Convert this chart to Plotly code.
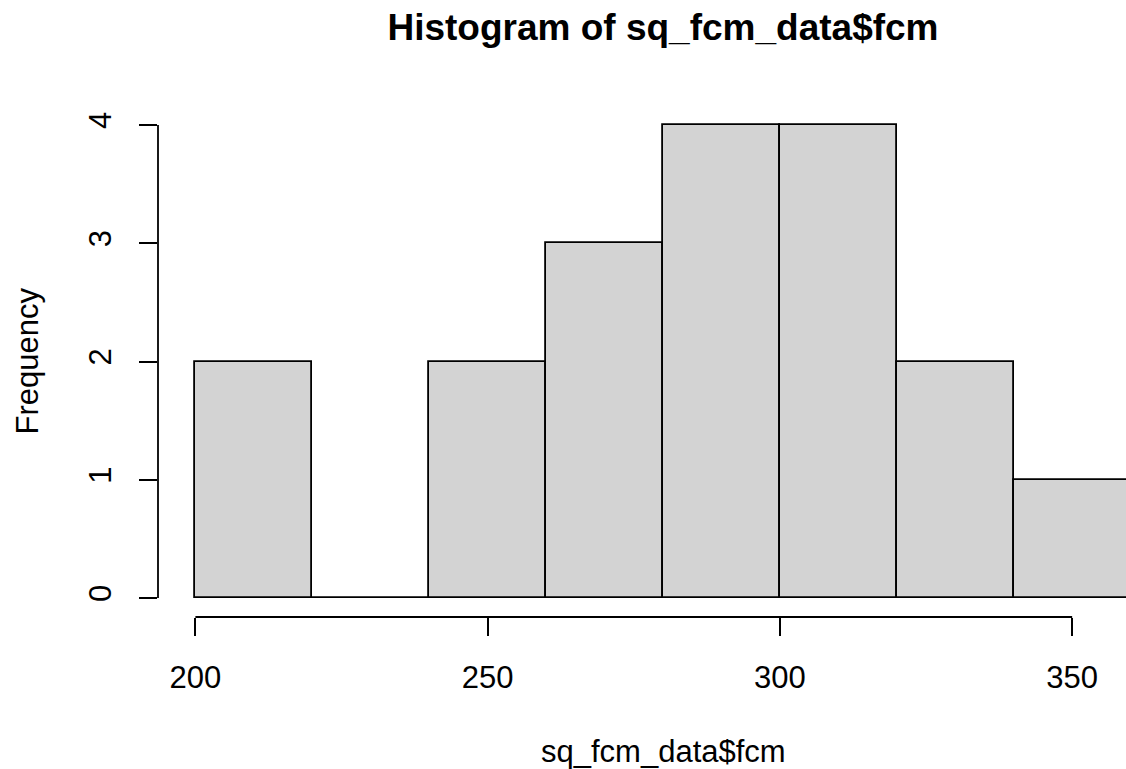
import plotly.graph_objects as go

bin_starts = [200, 220, 240, 260, 280, 300, 320, 340]
bin_width = 20
counts = [2, 0, 2, 3, 4, 4, 2, 1]
x_ticks = [200, 250, 300, 350]
y_ticks = [0, 1, 2, 3, 4]
title_text = "Histogram of sq_fcm_data$fcm"
x_label = "sq_fcm_data$fcm"
y_label = "Frequency"

W, H = 1126, 769
L, T = 158, 106
R = 0
B = H - 617
FONT = "Liberation Sans, Arial, sans-serif"
FS = 31

centers = [s + bin_width / 2 for s in bin_starts]

fig = go.Figure()
fig.add_trace(go.Bar(
    x=centers, y=counts, width=[bin_width] * len(counts),
    marker=dict(color="#D3D3D3", line=dict(color="black", width=1.8)),
    hoverinfo="x+y", showlegend=False,
))

plot_w = W - L - R
plot_h = H - T - B
x0 = 193.6
px_per_unit = 5.845
x1 = x0 + plot_w / px_per_unit
cx = (663 - L) / plot_w

fig.update_layout(
    width=W, height=H,
    margin=dict(l=L, r=R, t=T, b=B, pad=0, autoexpand=False),
    paper_bgcolor="white", plot_bgcolor="white",
    font=dict(family=FONT, size=FS, color="black"),
    bargap=0,
    title=dict(text="<b>" + title_text + "</b>", font=dict(size=37, family=FONT, color="black"),
               x=cx, xref="paper", xanchor="center",
               y=1 - 27 / H, yref="container", yanchor="middle"),
    xaxis=dict(range=[x0, x1], showgrid=False, zeroline=False, showline=False,
               tickmode="array", tickvals=x_ticks, ticktext=[str(v) for v in x_ticks],
               ticks="outside", ticklen=18, tickwidth=1.8, tickcolor="black",
               tickfont=dict(size=FS, family=FONT, color="black"),
               ticklabelstandoff=15),
    yaxis=dict(range=[-0.16, 4.16], showgrid=False, zeroline=False, showline=False,
               tickmode="array", tickvals=y_ticks, ticktext=[str(v) for v in y_ticks],
               ticks="outside", ticklen=18, tickwidth=1.8, tickcolor="black",
               tickangle=-90,
               tickfont=dict(size=FS, family=FONT, color="black"),
               ticklabelstandoff=16),
)

# R-style axis lines spanning first to last tick
fig.add_shape(type="line", xref="x", yref="paper", x0=x_ticks[0], x1=x_ticks[-1], y0=0, y1=0,
              line=dict(color="black", width=1.8))
fig.add_shape(type="line", xref="paper", yref="y", x0=0, x1=0, y0=y_ticks[0], y1=y_ticks[-1],
              line=dict(color="black", width=1.8))

fig.add_annotation(text=x_label, xref="paper", yref="paper",
                   x=cx, y=(H - B - 751) / plot_h,
                   xanchor="center", yanchor="middle", showarrow=False,
                   font=dict(size=FS, family=FONT, color="black"))
fig.add_annotation(text=y_label, xref="paper", yref="paper",
                   x=(27 - L) / plot_w, y=0.5, textangle=-90,
                   xanchor="center", yanchor="middle", showarrow=False,
                   font=dict(size=FS, family=FONT, color="black"))

fig.write_html("out.html", config={"displayModeBar": False},
               post_script="document.body.style.margin='0';document.body.style.overflow='hidden';")
